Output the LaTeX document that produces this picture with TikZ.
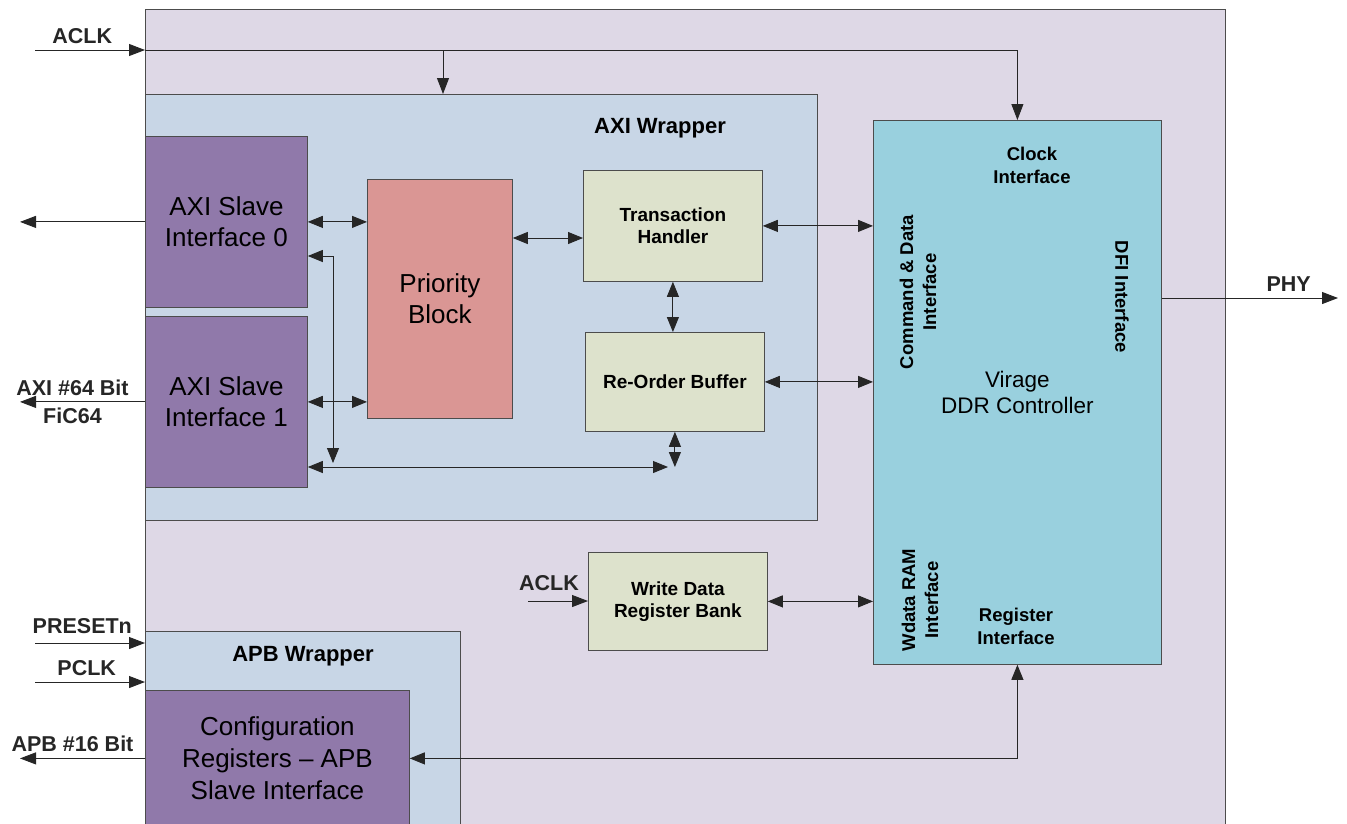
\documentclass[tikz,border=0pt]{standalone}
\usepackage{fontspec}
\setmainfont{Liberation Sans}
\usetikzlibrary{arrows.meta,positioning}
\definecolor{chipbg}{RGB}{222,216,230}
\definecolor{wrapbg}{RGB}{200,214,230}
\definecolor{slavebg}{RGB}{144,121,170}
\definecolor{priobg}{RGB}{218,150,148}
\definecolor{unitbg}{RGB}{221,226,204}
\definecolor{ddrbg}{RGB}{153,208,222}
\tikzset{
  box/.style={draw=black!70, line width=0.8pt, anchor=north west, inner sep=0pt, align=center},
  bigtext/.style={font=\fontsize{26}{31}\selectfont},
  unittext/.style={font=\bfseries\fontsize{19}{22.5}\selectfont},
  title/.style={font=\bfseries\fontsize{22}{26}\selectfont},
  sub/.style={align=center, inner sep=0pt, font=\bfseries\fontsize{18.5}{23}\selectfont},
  pin/.style={inner sep=2pt, font=\bfseries\fontsize{21.5}{24}\selectfont},
  arr/.style={-{Triangle[length=16pt,width=12pt]}, line width=0.9pt, black!85},
  dbl/.style={{Triangle[length=15pt,width=12pt]}-{Triangle[length=15pt,width=12pt]}, line width=0.9pt, black!85}
}
\begin{document}
\begin{tikzpicture}[x=1pt,y=-1pt]
  \useasboundingbox (0,0) rectangle (1347,823);
  \clip (0,0) rectangle (1347,823);
  % chip and wrappers
  \node[box, fill=chipbg, minimum width=1080pt, minimum height=830pt] (chip) at (145,9) {};
  \node[box, fill=wrapbg, minimum width=672pt, minimum height=426pt] (axiwrap) at (145,94) {};
  \node[title] at (660,128) {AXI Wrapper};
  \node[box, fill=wrapbg, minimum width=315pt, minimum height=210pt] (apbwrap) at (145,631) {};
  \node[title] at (303,656) {APB Wrapper};
  % blocks
  \node[box, bigtext, fill=slavebg, minimum width=162pt, minimum height=171pt] (slave0) at (145,136) {AXI Slave\\Interface 0};
  \node[box, bigtext, fill=slavebg, minimum width=162pt, minimum height=171pt] (slave1) at (145,316) {AXI Slave\\Interface 1};
  \node[box, bigtext, fill=priobg, minimum width=145pt, minimum height=239pt] (prio) at (367,179) {Priority\\Block};
  \node[box, unittext, fill=unitbg, minimum width=179pt, minimum height=111pt] (th) at (583,170) {Transaction\\Handler};
  \node[box, unittext, fill=unitbg, minimum width=179pt, minimum height=99pt] (rob) at (585,332) {Re-Order Buffer};
  \node[box, unittext, fill=unitbg, minimum width=179pt, minimum height=98pt] (wd) at (588,552) {Write Data\\Register Bank};
  \node[box, fill=ddrbg, minimum width=288pt, minimum height=544pt, font=\fontsize{22.5}{26}\selectfont] (ddr) at (873,120) {Virage\\DDR Controller};
  \node[box, fill=slavebg, minimum width=264pt, minimum height=136pt, font=\fontsize{26}{32}\selectfont] (cfgreg) at (145,690) {Configuration\\Registers \textendash{} APB\\Slave Interface};
  % controller interfaces
  \node[sub] (clkif) at (1032,165) {Clock\\Interface};
  \node[sub, rotate=90] (cmdif) at (918,292) {Command \& Data\\Interface};
  \node[sub, rotate=-90] (dfiif) at (1122,297) {DFI Interface};
  \node[sub, rotate=90] (wdif) at (920,600) {Wdata RAM\\Interface};
  \node[sub] (regif) at (1016,626) {Register\\Interface};
  % clock
  \coordinate (aclkin) at (35,50);
  \coordinate (aclktap) at (443,50);
  \draw[arr] (aclkin) -- node[pin, above=4pt, pos=0.43] {ACLK} (aclkin -| chip.west);
  \draw[arr] (aclkin -| chip.west) -| (ddr.north);
  \draw[arr] (aclktap) -- (aclktap |- axiwrap.north);
  % external ports
  \coordinate (leftedge) at (20,0);
  \draw[arr] (slave0.west) -- (slave0.west -| leftedge);
  \draw[arr] (slave1.west) -- node[pin, above=4pt, pos=0.58] {AXI \#64 Bit} node[pin, below=4pt, pos=0.58] {FiC64} (slave1.west -| leftedge);
  \draw[arr] (cfgreg.west) -- node[pin, above=4pt, pos=0.58] {APB \#16 Bit} (cfgreg.west -| leftedge);
  \coordinate (presetin) at (35,643);
  \coordinate (pclkin) at (35,682);
  \draw[arr] (presetin) -- node[pin, above=7pt, pos=0.43] {PRESETn} (presetin -| apbwrap.west);
  \draw[arr] (pclkin) -- node[pin, above=4pt, pos=0.47] {PCLK} (pclkin -| apbwrap.west);
  % inside AXI wrapper
  \draw[dbl] (slave0.east) -- (slave0.east -| prio.west);
  \draw[dbl] (slave1.east) -- (slave1.east -| prio.west);
  \coordinate (prioth) at (512,238);
  \draw[dbl] (prio.east |- prioth) -- (th.west |- prioth);
  \draw[dbl] (th.south) -- (th.south |- rob.north);
  \coordinate (busend) at (668,467);
  \draw[dbl] (rob.south) -- (rob.south |- busend);
  \draw[dbl] (slave1.east |- busend) -- (busend);
  \coordinate (ret) at (333,256);
  \coordinate (retbot) at (333,463);
  \draw[dbl] (retbot) -- (ret) -- (ret -| slave0.east);
  % to controller
  \draw[dbl] (th.east) -- (th.east -| ddr.west);
  \draw[dbl] (rob.east) -- (rob.east -| ddr.west);
  \coordinate (wdclk) at (528,601);
  \draw[arr] (wdclk) -- node[pin, above=8pt, pos=0.35] {ACLK} (wdclk -| wd.west);
  \draw[dbl] (wd.east) -- (wd.east -| ddr.west);
  \coordinate (phyout) at (1338,298);
  \draw[arr] (phyout -| ddr.east) -- node[pin, above=4pt, pos=0.72] {PHY} (phyout);
  \draw[dbl] (ddr.south) |- (cfgreg.east);
\end{tikzpicture}
\end{document}
